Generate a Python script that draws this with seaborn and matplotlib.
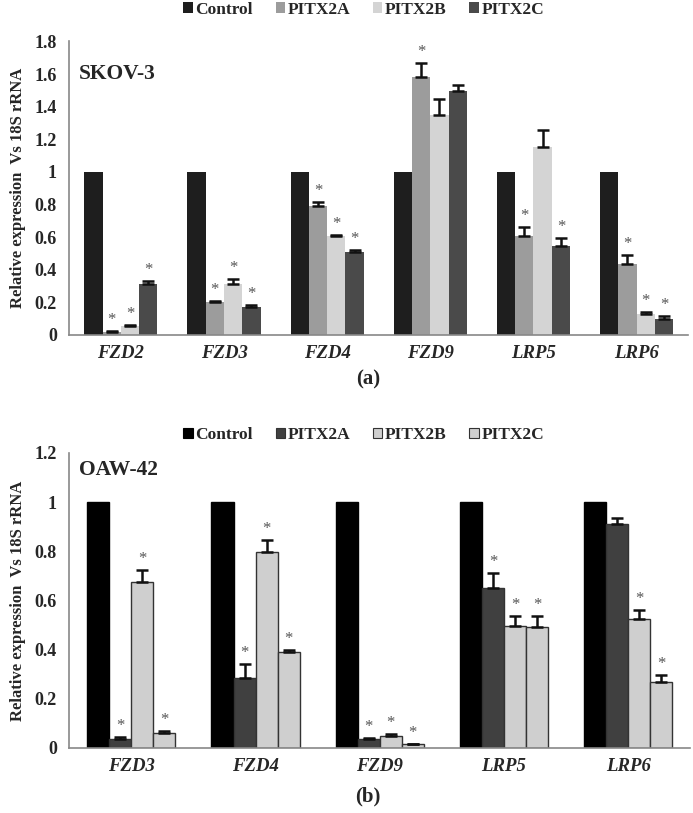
import numpy as np
import pandas as pd
import matplotlib
matplotlib.use("Agg")
import matplotlib.pyplot as plt
import seaborn as sns
from matplotlib.patches import Patch

sns.set_style("white")
plt.rcParams["font.family"] = ["Liberation Serif", "DejaVu Serif"]
plt.rcParams["font.weight"] = "bold"

conditions = ["Control", "PITX2A", "PITX2B", "PITX2C"]

# panel (a) SKOV-3
genes_a = ["FZD2", "FZD3", "FZD4", "FZD9", "LRP5", "LRP6"]
vals_a = {
    "Control": [1, 1, 1, 1, 1, 1],
    "PITX2A": [0.02, 0.20, 0.79, 1.58, 0.605, 0.435],
    "PITX2B": [0.055, 0.315, 0.605, 1.35, 1.155, 0.13],
    "PITX2C": [0.315, 0.17, 0.51, 1.495, 0.545, 0.10],
}
err_a = {
    "Control": [0, 0, 0, 0, 0, 0],
    "PITX2A": [0.005, 0.01, 0.025, 0.09, 0.055, 0.055],
    "PITX2B": [0.008, 0.03, 0.01, 0.10, 0.10, 0.01],
    "PITX2C": [0.015, 0.015, 0.01, 0.04, 0.05, 0.015],
}
star_a = {
    "Control": [0, 0, 0, 0, 0, 0],
    "PITX2A": [1, 1, 1, 1, 1, 1],
    "PITX2B": [1, 1, 1, 0, 0, 1],
    "PITX2C": [1, 1, 1, 0, 1, 1],
}

# panel (b) OAW-42
genes_b = ["FZD3", "FZD4", "FZD9", "LRP5", "LRP6"]
vals_b = {
    "Control": [1, 1, 1, 1, 1],
    "PITX2A": [0.035, 0.285, 0.035, 0.65, 0.91],
    "PITX2B": [0.675, 0.795, 0.05, 0.495, 0.525],
    "PITX2C": [0.06, 0.39, 0.015, 0.49, 0.27],
}
err_b = {
    "Control": [0, 0, 0, 0, 0],
    "PITX2A": [0.01, 0.055, 0.005, 0.06, 0.025],
    "PITX2B": [0.05, 0.05, 0.005, 0.04, 0.035],
    "PITX2C": [0.008, 0.01, 0.003, 0.045, 0.025],
}
star_b = {
    "Control": [0, 0, 0, 0, 0],
    "PITX2A": [1, 1, 1, 1, 0],
    "PITX2B": [1, 1, 1, 1, 1],
    "PITX2C": [1, 1, 1, 1, 1],
}

colors_a = ["#1e1e1e", "#9c9c9c", "#d4d4d4", "#4a4a4a"]
colors_b = ["#000000", "#404040", "#cfcfcf", "#cfcfcf"]
edges_b = ["#000000", "#333333", "#333333", "#333333"]


def panel(ax, genes, vals, errs, stars, colors, edges, ymax, label, label_y, edged):
    df = pd.DataFrame([(g, c, vals[c][i]) for c in conditions
                       for i, g in enumerate(genes)],
                      columns=["gene", "cond", "val"])
    pal = dict(zip(conditions, colors))
    sns.barplot(data=df, x="gene", y="val", hue="cond", hue_order=conditions,
                order=genes, palette=pal, width=0.71, errorbar=None,
                saturation=1, ax=ax, legend=False,
                linewidth=1.0 if edged else 0, edgecolor="#333333")
    for k, (cont, c) in enumerate(zip(ax.containers, conditions)):
        for i, bar in enumerate(cont):
            if edged:
                bar.set_edgecolor(edges[k])
            x = bar.get_x() + bar.get_width() / 2
            h = bar.get_height()
            e = errs[c][i]
            if e > 0:
                ax.errorbar(x, h, yerr=[[0], [e]], fmt="none", ecolor="#111111",
                            elinewidth=1.8, capsize=4, capthick=1.8)
            if stars[c][i]:
                ax.text(x, h + e + ymax * 0.010, "*", ha="center", va="bottom",
                        fontsize=12, color="#555555", fontweight="normal")
    ax.set_ylim(0, ymax)
    ax.set_xlim(-0.5, len(genes) - 0.5)
    ticks = np.round(np.arange(0, ymax + 0.001, 0.2), 1)
    ax.set_yticks(ticks)
    ax.set_yticklabels(["%g" % t for t in ticks], fontsize=13, fontweight="bold")
    ax.set_xticks(range(len(genes)))
    ax.set_xticklabels(genes, fontsize=13.5, fontweight="bold", fontstyle="italic")
    ax.set_xticks(np.arange(-0.5, len(genes)), minor=True)
    ax.tick_params(axis="x", which="major", length=0, pad=7)
    ax.tick_params(axis="x", which="minor", length=5, color="#888888", width=1)
    ax.tick_params(axis="y", length=4, color="#888888", width=1, pad=5)
    ax.set_xlabel("")
    ax.set_ylabel("Relative expression  Vs 18S rRNA", fontsize=12,
                  fontweight="bold", labelpad=6)
    for s in ["top", "right"]:
        ax.spines[s].set_visible(False)
    for s in ["left", "bottom"]:
        ax.spines[s].set_color("#888888")
        ax.spines[s].set_linewidth(1.2)
    ax.text(0.016, label_y, label, transform=ax.transAxes, fontsize=15.5,
            fontweight="bold", ha="left", va="center")


fig = plt.figure(figsize=(6.93, 8.13), dpi=100)
ax1 = fig.add_axes([0.100, 0.588, 0.893, 0.361])
ax2 = fig.add_axes([0.100, 0.080, 0.896, 0.363])

panel(ax1, genes_a, vals_a, err_a, star_a, colors_a, None, 1.8, "SKOV-3", 0.89, False)
panel(ax2, genes_b, vals_b, err_b, star_b, colors_b, edges_b, 1.2, "OAW-42", 0.943, True)

leg_kw = dict(loc="center", ncol=4, frameon=False,
              prop={"size": 12.5, "weight": "bold"},
              handlelength=0.55, handleheight=0.55, handletextpad=0.15,
              columnspacing=1.3)
h1 = [Patch(facecolor=c, edgecolor="none") for c in colors_a]
fig.legend(h1, conditions, bbox_to_anchor=(0.525, 0.988), **leg_kw)
h2 = [Patch(facecolor=c, edgecolor=e, linewidth=0.8) for c, e in zip(colors_b, edges_b)]
fig.legend(h2, conditions, bbox_to_anchor=(0.525, 0.465), **leg_kw)

fig.text(0.531, 0.533, "(a)", ha="center", va="center", fontsize=15, fontweight="bold")
fig.text(0.531, 0.020, "(b)", ha="center", va="center", fontsize=15, fontweight="bold")

fig.savefig("out.png", dpi=100)
